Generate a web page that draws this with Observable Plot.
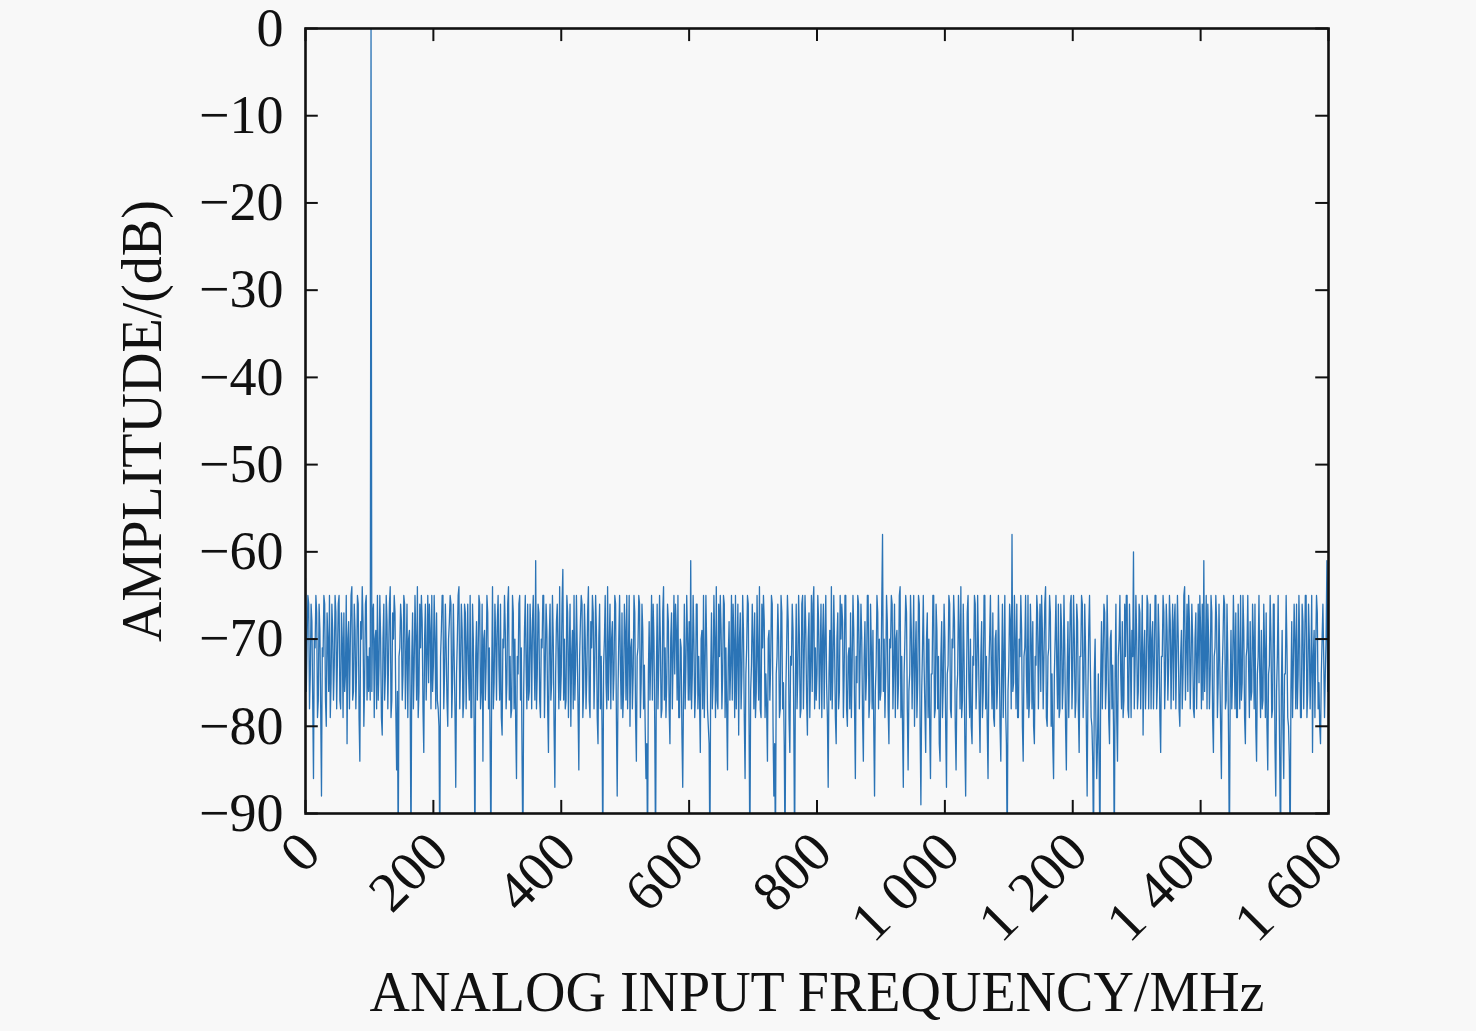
<!DOCTYPE html>
<html><head><meta charset="utf-8">
<script src="https://cdn.jsdelivr.net/npm/d3@7"></script>
<script src="https://cdn.jsdelivr.net/npm/@observablehq/plot@0.6"></script>
<style>html,body{margin:0;padding:0;background:#f8f8f8;} svg{display:block}</style>
</head><body><div id="chart"></div>
<script>
// Frequency ticks (MHz) and amplitude ticks (dB)
const xTicks = [0, 200, 400, 600, 800, 1000, 1200, 1400, 1600];
const yTicks = [0, -10, -20, -30, -40, -50, -60, -70, -80, -90];
// FFT bin spacing in MHz (bins from 0 to 1600 MHz)
const binStep = 1.25;
// Amplitude (dB) per bin (one row = 50 MHz)
const amplitude = [
-63,-76,-70,-65,-66,-78,-74,-66,-68,-77,-86,-70,-71,-65,-67,-79,-77,-66,-69,-78,-88,-71,-72,-65,-66,-77,-80,-67,-70,-76,-65,-79,-75,-66,-69,-77,-73,-65,-67,-78,
-72,-66,-65,-77,-78,-67,-70,-79,-67,-76,-74,-65,-82,-70,-68,-78,-71,-65,-64,-77,-76,-66,-69,-78,-73,-65,-66,-79,-84,-68,-70,-64,-68,-80,-75,-66,-65,-77,-72,-76,
-71,-77,0,-76,-67,-66,-79,-70,-69,-78,-65,-77,-73,-65,-70,-79,-81,-70,-66,-77,-74,-65,-68,-78,-72,-66,-64,-79,-77,-67,-70,-65,-67,-78,-85,-76,-95,-72,-71,-66,
-68,-77,-74,-65,-66,-78,-72,-66,-79,-70,-69,-77,-95,-72,-67,-78,-73,-65,-70,-77,-64,-79,-76,-66,-71,-65,-68,-78,-83,-70,-66,-77,-72,-65,-75,-66,-69,-78,-65,-76,
-73,-65,-70,-78,-67,-77,-78,-80,-95,-72,-69,-65,-65,-78,-74,-66,-71,-77,-80,-70,-68,-65,-66,-79,-75,-66,-72,-78,-87,-74,-70,-65,-64,-78,-73,-66,-69,-79,-77,-66,
-67,-78,-71,-66,-74,-77,-65,-79,-79,-66,-70,-80,-95,-72,-68,-77,-72,-65,-66,-78,-76,-66,-84,-70,-69,-77,-73,-65,-67,-78,-71,-82,-95,-74,-64,-78,-75,-66,-70,-77,
-68,-65,-73,-77,-66,-79,-81,-70,-71,-65,-69,-78,-75,-66,-64,-77,-72,-79,-78,-65,-67,-78,-70,-80,-86,-72,-74,-66,-65,-77,-71,-84,-95,-76,-69,-65,-73,-78,-66,-77,
-76,-66,-70,-78,-68,-65,-72,-77,-61,-78,-74,-66,-67,-77,-79,-70,-71,-65,-65,-79,-73,-66,-69,-78,-83,-70,-66,-77,-75,-65,-70,-80,-87,-74,-68,-66,-72,-78,-64,-77,
-74,-66,-62,-77,-70,-78,-77,-65,-67,-79,-72,-66,-80,-72,-69,-78,-65,-77,-73,-65,-71,-78,-85,-72,-68,-65,-66,-79,-76,-66,-70,-78,-74,-67,-64,-77,-79,-68,-71,-65,
-67,-78,-73,-65,-69,-79,-82,-70,-66,-78,-72,-80,-95,-73,-70,-65,-75,-78,-64,-77,-71,-66,-78,-70,-68,-77,-74,-65,-66,-79,-88,-76,-70,-65,-73,-78,-67,-79,-76,-66,
-69,-77,-65,-78,-72,-65,-80,-71,-70,-78,-74,-65,-67,-79,-84,-72,-71,-65,-66,-79,-75,-66,-69,-78,-73,-80,-86,-82,-95,-74,-68,-77,-72,-65,-77,-66,-70,-80,-95,-74,
-66,-78,-73,-65,-70,-79,-78,-67,-64,-77,-71,-79,-75,-66,-68,-78,-82,-70,-67,-78,-72,-65,-74,-66,-69,-77,-65,-79,-79,-70,-71,-81,-87,-76,-66,-78,-73,-65,-70,-77,
-68,-77,-61,-78,-74,-65,-70,-79,-76,-66,-66,-78,-72,-77,-83,-70,-69,-78,-65,-79,-73,-65,-71,-78,-80,-82,-95,-74,-67,-78,-75,-65,-70,-79,-64,-77,-78,-66,-72,-65,
-69,-78,-74,-65,-66,-79,-71,-78,-85,-72,-68,-77,-73,-65,-77,-66,-70,-79,-65,-78,-72,-66,-81,-70,-67,-78,-74,-65,-69,-79,-86,-74,-71,-65,-66,-80,-95,-76,-73,-66,
-70,-78,-67,-79,-76,-65,-72,-77,-64,-78,-79,-66,-71,-65,-68,-79,-74,-78,-84,-70,-69,-77,-73,-65,-66,-80,-88,-82,-95,-74,-72,-66,-70,-79,-78,-65,-67,-78,-75,-82,
-95,-76,-71,-65,-68,-79,-83,-72,-73,-66,-69,-80,-95,-74,-66,-78,-74,-65,-70,-79,-78,-66,-65,-78,-72,-65,-69,-77,-81,-70,-67,-79,-73,-65,-76,-66,-64,-78,-71,-77,
-74,-65,-68,-78,-72,-66,-79,-70,-66,-78,-70,-65,-75,-79,-87,-74,-69,-77,-64,-78,-73,-65,-71,-79,-82,-70,-67,-78,-76,-65,-70,-66,-68,-79,-74,-65,-65,-78,-80,-72,
-71,-78,-67,-79,-73,-65,-69,-78,-86,-72,-75,-65,-66,-78,-72,-66,-70,-79,-84,-72,-68,-77,-74,-65,-65,-79,-77,-66,-71,-78,-69,-80,-88,-76,-73,-65,-67,-78,-70,-77,
-76,-66,-58,-76,-70,-79,-74,-65,-68,-78,-82,-70,-71,-65,-66,-78,-73,-66,-79,-70,-69,-78,-75,-65,-64,-79,-72,-80,-87,-74,-70,-65,-67,-78,-85,-76,-74,-65,-69,-78,
-72,-65,-80,-72,-68,-79,-75,-65,-66,-80,-89,-76,-71,-65,-73,-78,-83,-70,-67,-79,-70,-80,-86,-74,-74,-65,-65,-79,-78,-66,-69,-78,-72,-82,-84,-72,-68,-79,-75,-66,
-70,-80,-87,-74,-73,-65,-66,-78,-79,-70,-71,-65,-68,-80,-85,-76,-74,-65,-69,-78,-64,-79,-77,-66,-72,-82,-88,-76,-67,-65,-75,-79,-70,-80,-82,-72,-73,-65,-66,-78,
-74,-65,-71,-78,-83,-72,-68,-79,-76,-65,-65,-78,-72,-80,-86,-74,-70,-65,-73,-78,-67,-79,-80,-70,-69,-78,-75,-65,-71,-80,-84,-74,-66,-79,-72,-65,-78,-82,-95,-76,
-73,-66,-68,-78,-58,-76,-75,-65,-70,-78,-66,-79,-79,-70,-72,-65,-69,-80,-84,-72,-71,-65,-74,-78,-65,-79,-77,-66,-70,-78,-68,-80,-82,-72,-73,-65,-67,-78,-71,-66,
-76,-65,-69,-78,-72,-66,-64,-79,-80,-72,-71,-65,-67,-80,-74,-82,-86,-74,-70,-65,-73,-78,-66,-79,-78,-66,-69,-78,-75,-65,-71,-80,-85,-74,-68,-79,-72,-66,-65,-78,
-74,-65,-70,-79,-77,-66,-68,-78,-83,-72,-72,-65,-66,-79,-75,-66,-71,-80,-88,-76,-69,-65,-73,-79,-80,-84,-95,-74,-70,-80,-86,-82,-74,-84,-95,-74,-68,-78,-72,-66,
-67,-78,-75,-65,-71,-79,-82,-70,-69,-78,-73,-80,-95,-74,-66,-79,-84,-72,-70,-65,-74,-78,-68,-79,-77,-66,-72,-65,-65,-78,-79,-66,-71,-79,-69,-72,-60,-78,-73,-65,
-70,-78,-76,-66,-67,-78,-72,-65,-81,-72,-69,-78,-74,-65,-66,-78,-71,-66,-78,-70,-68,-78,-73,-65,-65,-78,-75,-66,-70,-79,-83,-72,-72,-65,-67,-78,-74,-66,-69,-77,
-73,-65,-68,-78,-71,-66,-77,-68,-66,-78,-72,-65,-70,-78,-80,-72,-69,-78,-74,-65,-64,-77,-71,-66,-76,-65,-68,-78,-73,-66,-70,-78,-79,-70,-67,-78,-72,-66,-75,-65,
-69,-78,-66,-77,-61,-76,-72,-65,-78,-66,-70,-78,-74,-65,-67,-79,-83,-72,-71,-65,-68,-79,-75,-66,-73,-80,-86,-74,-70,-65,-66,-78,-77,-66,-72,-82,-95,-76,-69,-78,
-74,-65,-70,-78,-67,-79,-79,-66,-72,-78,-65,-77,-75,-65,-69,-79,-82,-72,-71,-65,-73,-79,-68,-77,-76,-66,-70,-78,-66,-80,-84,-74,-72,-65,-74,-79,-69,-78,-77,-66,
-71,-79,-67,-80,-85,-74,-73,-65,-70,-79,-78,-66,-66,-82,-88,-76,-72,-65,-75,-84,-95,-76,-69,-80,-86,-74,-74,-65,-71,-79,-80,-84,-95,-76,-68,-79,-73,-66,-70,-78,
-66,-78,-74,-65,-71,-79,-79,-66,-68,-78,-72,-65,-65,-79,-76,-66,-70,-78,-73,-65,-83,-72,-69,-79,-71,-65,-67,-78,-75,-80,-82,-74,-70,-66,-72,-79,-74,-70,-61,-76,
-66
];
const data = amplitude.map((a, i) => ({f: i * binStep, a}));

const fmtX = d => d >= 1000 ? `${Math.floor(d / 1000)} ${String(d % 1000).padStart(3, "0")}` : String(d);
const fmtY = d => d < 0 ? "\u2212" + Math.abs(d) : String(d);
const serif = "'Liberation Serif', 'Times New Roman', serif";
const ink = "#111";

const chart = Plot.plot({
  width: 1476, height: 1031,
  marginLeft: 305, marginRight: 148, marginTop: 28, marginBottom: 218,
  style: {background: "#f8f8f8", fontFamily: serif, color: ink, overflow: "visible"},
  x: {domain: [0, 1600]},
  y: {domain: [-90, 0]},
  marks: [
    Plot.lineY(data, {x: "f", y: "a", stroke: "#2b74b6", strokeWidth: 1.3, clip: true}),
    Plot.ruleX(xTicks, {x: d => d, y1: -90, y2: -88.5, stroke: ink, strokeWidth: 2}),
    Plot.ruleX(xTicks, {x: d => d, y1: 0, y2: -1.5, stroke: ink, strokeWidth: 2}),
    Plot.ruleY(yTicks, {y: d => d, x1: 0, x2: 20, stroke: ink, strokeWidth: 2}),
    Plot.ruleY(yTicks, {y: d => d, x1: 1600, x2: 1580, stroke: ink, strokeWidth: 2}),
    Plot.frame({stroke: ink, strokeWidth: 2.6}),
    Plot.axisY(yTicks, {tickSize: 0, tickPadding: 22, tickFormat: fmtY, fontSize: 54, label: null, fill: ink}),
    Plot.axisX(xTicks, {tickSize: 0, tickRotate: -45, tickPadding: 20, dx: 5, dy: 9, tickFormat: fmtX, fontSize: 56, label: null, fill: ink}),
    Plot.text(["AMPLITUDE/(dB)"], {text: d => d, frameAnchor: "left", textAnchor: "middle", dx: -162, rotate: -90, fontSize: 56, fill: ink}),
    Plot.text(["ANALOG INPUT FREQUENCY/MHz"], {text: d => d, frameAnchor: "bottom", dy: 197, fontSize: 56, fill: ink})
  ]
});
document.getElementById("chart").appendChild(chart);
</script>
</body></html>
